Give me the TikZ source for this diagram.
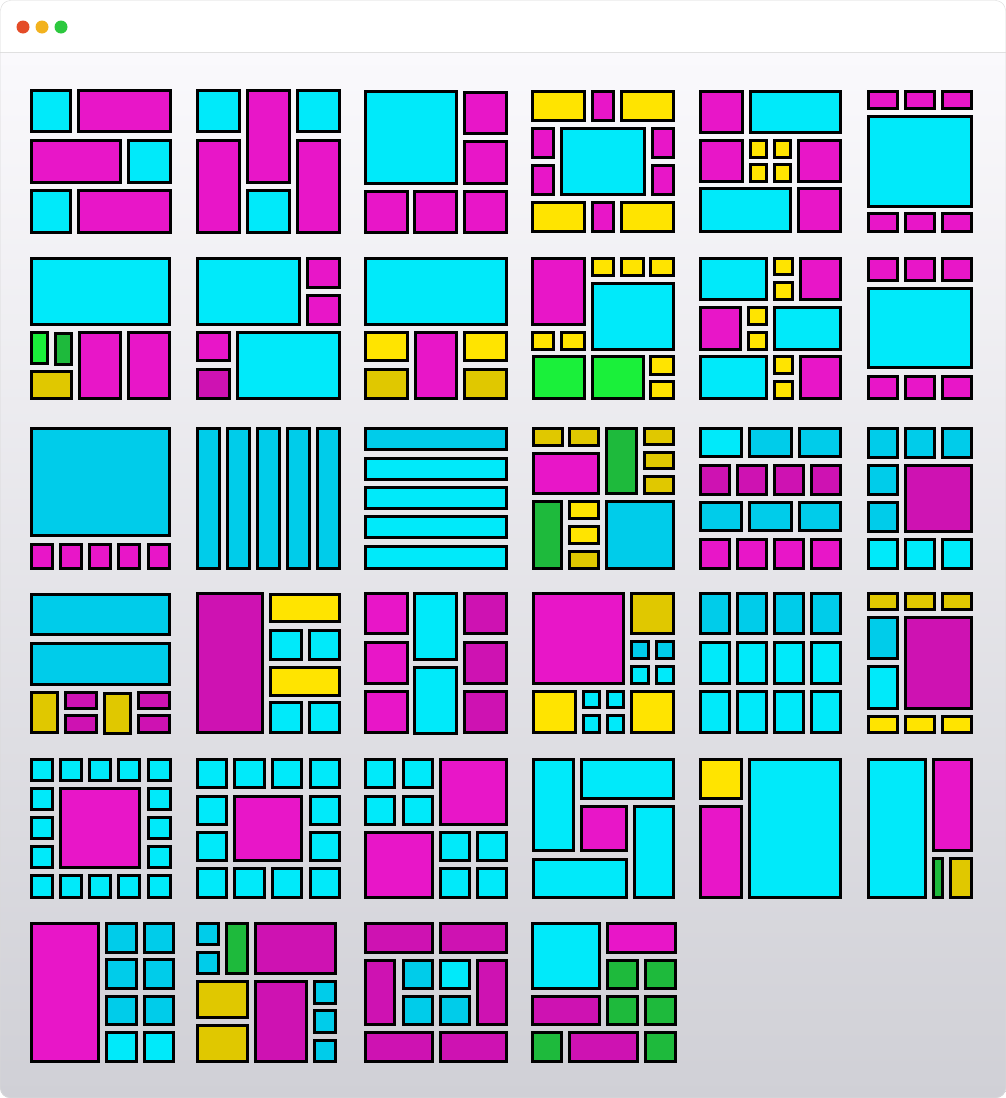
\documentclass[tikz,border=0pt]{standalone}
\usepackage{tikz}

\definecolor{tcyan}{RGB}{0,234,250}
\definecolor{tcyanD}{RGB}{0,204,234}
\definecolor{tmag}{RGB}{232,22,200}
\definecolor{tmagD}{RGB}{206,18,178}
\definecolor{tyel}{RGB}{255,228,0}
\definecolor{tyelD}{RGB}{224,200,0}
\definecolor{tgrn}{RGB}{26,240,58}
\definecolor{tgrnD}{RGB}{30,186,60}
\definecolor{dotred}{RGB}{228,76,40}
\definecolor{dotyel}{RGB}{242,178,30}
\definecolor{dotgrn}{RGB}{44,200,62}

% one tile: style, left, top, right, bottom (pixels)
\newcommand\tile[5]{\draw[#1] ({#2+1.4},{#3+1.4}) rectangle ({#4-1.4},{#5-1.4});}

\begin{document}
\begin{tikzpicture}[
    x=1pt, y=-1pt,
    tilebox/.style={draw=black, line width=2.8pt},
    cy/.style={tilebox, fill=tcyan},
    cyD/.style={tilebox, fill=tcyanD},
    mg/.style={tilebox, fill=tmag},
    mgD/.style={tilebox, fill=tmagD},
    ye/.style={tilebox, fill=tyel},
    yeD/.style={tilebox, fill=tyelD},
    gn/.style={tilebox, fill=tgrn},
    gnD/.style={tilebox, fill=tgrnD}
]
\useasboundingbox (0,0) rectangle (1006,1098);

% window
\begin{scope}
\clip[rounded corners=10pt] (0,0) rectangle (1006,1098);
\shade[top color={rgb,255:red,250;green,249;blue,252}, middle color={rgb,255:red,228;green,223;blue,240}, bottom color={rgb,255:red,208;green,208;blue,214}] (0,52) rectangle (1006,1098);
\fill[white] (0,0) rectangle (1006,52);
\end{scope}
\draw[black!12, line width=1pt] (0,52) -- (1006,52);
\draw[black!15, rounded corners=10pt] (0.5,0.5) rectangle (1005.5,1097.5);
\fill[dotred] (23,27) circle (6.5pt);
\fill[dotyel] (42,27) circle (6.5pt);
\fill[dotgrn] (61,27) circle (6.5pt);

% row 1
\tile{cy}{30}{89}{72}{133}
\tile{mg}{77}{89}{172}{133}
\tile{mg}{30}{139}{122}{184}
\tile{cy}{127}{139}{172}{184}
\tile{cy}{30}{189}{72}{234}
\tile{mg}{77}{189}{172}{234}

\tile{cy}{196}{89}{241}{133}
\tile{mg}{196}{139}{241}{234}
\tile{mg}{246}{89}{291}{184}
\tile{cy}{246}{189}{291}{234}
\tile{cy}{296}{89}{341}{133}
\tile{mg}{296}{139}{341}{234}

\tile{cy}{364}{90}{458}{185}
\tile{mg}{463}{91}{508}{135}
\tile{mg}{463}{140}{508}{185}
\tile{mg}{364}{190}{409}{234}
\tile{mg}{413}{190}{458}{234}
\tile{mg}{463}{190}{508}{234}

\tile{ye}{531}{90}{586}{122}
\tile{mg}{591}{90}{615}{122}
\tile{ye}{620}{90}{675}{122}
\tile{mg}{531}{127}{555}{159}
\tile{mg}{531}{164}{555}{196}
\tile{cy}{560}{127}{646}{196}
\tile{mg}{651}{127}{675}{159}
\tile{mg}{651}{164}{675}{196}
\tile{ye}{531}{201}{586}{233}
\tile{mg}{591}{201}{615}{233}
\tile{ye}{620}{201}{675}{233}

\tile{mg}{699}{90}{744}{134}
\tile{cy}{749}{90}{842}{134}
\tile{mg}{699}{139}{744}{183}
\tile{ye}{749}{139}{768}{159}
\tile{ye}{773}{139}{792}{159}
\tile{ye}{749}{163}{768}{183}
\tile{ye}{773}{163}{792}{183}
\tile{mg}{797}{139}{842}{183}
\tile{cy}{699}{187}{792}{233}
\tile{mg}{797}{187}{842}{233}

\tile{mg}{867}{90}{899}{110}
\tile{mg}{904}{90}{936}{110}
\tile{mg}{941}{90}{973}{110}
\tile{cy}{867}{115}{973}{208}
\tile{mg}{867}{212}{899}{233}
\tile{mg}{904}{212}{936}{233}
\tile{mg}{941}{212}{973}{233}

% row 2
\tile{cy}{30}{257}{171}{326}
\tile{gn}{30}{331}{49}{365}
\tile{gnD}{54}{332}{73}{366}
\tile{yeD}{30}{370}{73}{400}
\tile{mg}{78}{331}{122}{400}
\tile{mg}{127}{331}{171}{400}

\tile{cy}{196}{257}{301}{326}
\tile{mg}{306}{257}{341}{289}
\tile{mg}{306}{294}{341}{326}
\tile{mg}{196}{331}{231}{362}
\tile{mgD}{196}{368}{231}{400}
\tile{cy}{236}{331}{341}{400}

\tile{cy}{364}{257}{508}{326}
\tile{ye}{364}{331}{409}{362}
\tile{yeD}{364}{368}{409}{400}
\tile{mg}{414}{331}{458}{400}
\tile{ye}{463}{331}{508}{362}
\tile{yeD}{463}{368}{508}{400}

\tile{mg}{531}{257}{586}{326}
\tile{ye}{591}{257}{615}{277}
\tile{ye}{620}{257}{645}{277}
\tile{ye}{649}{257}{675}{277}
\tile{cy}{591}{282}{675}{351}
\tile{ye}{531}{331}{555}{351}
\tile{ye}{560}{331}{586}{351}
\tile{gn}{532}{355}{586}{400}
\tile{gn}{591}{355}{645}{400}
\tile{ye}{649}{355}{675}{376}
\tile{ye}{649}{380}{675}{400}

\tile{cy}{699}{257}{768}{301}
\tile{ye}{773}{257}{794}{276}
\tile{ye}{773}{281}{794}{301}
\tile{mg}{799}{257}{842}{301}
\tile{mg}{699}{306}{742}{351}
\tile{ye}{747}{306}{768}{326}
\tile{ye}{747}{331}{768}{351}
\tile{cy}{773}{306}{842}{351}
\tile{cy}{699}{355}{768}{400}
\tile{ye}{773}{355}{794}{375}
\tile{ye}{773}{380}{794}{400}
\tile{mg}{799}{355}{842}{400}

\tile{mg}{867}{257}{899}{282}
\tile{mg}{904}{257}{936}{282}
\tile{mg}{941}{257}{973}{282}
\tile{cy}{867}{287}{973}{369}
\tile{mg}{867}{375}{899}{400}
\tile{mg}{904}{375}{936}{400}
\tile{mg}{941}{375}{973}{400}

% row 3
\tile{cyD}{30}{427}{171}{537}
\tile{mg}{30}{543}{54}{570}
\tile{mg}{59}{543}{83}{570}
\tile{mg}{88}{543}{112}{570}
\tile{mg}{117}{543}{141}{570}
\tile{mg}{147}{543}{171}{570}

\tile{cyD}{196}{427}{221}{570}
\tile{cyD}{226}{427}{251}{570}
\tile{cyD}{256}{427}{281}{570}
\tile{cyD}{286}{427}{311}{570}
\tile{cyD}{316}{427}{341}{570}

\tile{cyD}{364}{427}{508}{451}
\tile{cy}{364}{457}{508}{481}
\tile{cy}{364}{486}{508}{510}
\tile{cy}{364}{515}{508}{539}
\tile{cy}{364}{545}{508}{570}

\tile{yeD}{532}{427}{564}{447}
\tile{yeD}{568}{427}{600}{447}
\tile{mg}{532}{452}{600}{495}
\tile{gnD}{605}{427}{638}{495}
\tile{yeD}{643}{427}{675}{446}
\tile{yeD}{643}{451}{675}{470}
\tile{yeD}{643}{475}{675}{495}
\tile{gnD}{532}{500}{563}{570}
\tile{ye}{568}{500}{600}{520}
\tile{ye}{568}{525}{600}{545}
\tile{yeD}{568}{550}{600}{570}
\tile{cyD}{605}{500}{675}{570}

\tile{cy}{699}{427}{743}{458}
\tile{cyD}{748}{427}{793}{458}
\tile{cyD}{798}{427}{842}{458}
\tile{mgD}{699}{464}{731}{496}
\tile{mgD}{736}{464}{768}{496}
\tile{mgD}{773}{464}{805}{496}
\tile{mgD}{810}{464}{842}{496}
\tile{cyD}{699}{501}{743}{532}
\tile{cyD}{748}{501}{793}{532}
\tile{cyD}{798}{501}{842}{532}
\tile{mg}{699}{538}{731}{570}
\tile{mg}{736}{538}{768}{570}
\tile{mg}{773}{538}{805}{570}
\tile{mg}{810}{538}{842}{570}

\tile{cyD}{867}{427}{899}{459}
\tile{cyD}{904}{427}{936}{459}
\tile{cyD}{941}{427}{973}{459}
\tile{cyD}{867}{464}{899}{496}
\tile{cyD}{867}{501}{899}{533}
\tile{mgD}{904}{464}{973}{533}
\tile{cy}{867}{538}{899}{570}
\tile{cy}{904}{538}{936}{570}
\tile{cy}{941}{538}{973}{570}

% row 4
\tile{cyD}{30}{593}{171}{636}
\tile{cyD}{30}{642}{171}{686}
\tile{yeD}{30}{691}{59}{734}
\tile{mgD}{64}{691}{98}{710}
\tile{mgD}{64}{714}{98}{734}
\tile{yeD}{103}{692}{132}{735}
\tile{mgD}{137}{691}{171}{710}
\tile{mgD}{137}{714}{171}{734}

\tile{mgD}{196}{592}{264}{734}
\tile{ye}{269}{593}{341}{623}
\tile{cy}{269}{629}{303}{661}
\tile{cy}{308}{629}{341}{661}
\tile{ye}{269}{666}{341}{697}
\tile{cy}{269}{701}{303}{734}
\tile{cy}{308}{701}{341}{734}

\tile{mg}{364}{592}{409}{635}
\tile{mg}{364}{641}{409}{685}
\tile{mg}{364}{690}{409}{734}
\tile{cy}{413}{592}{458}{661}
\tile{cy}{413}{666}{458}{735}
\tile{mgD}{463}{592}{508}{635}
\tile{mgD}{463}{641}{508}{685}
\tile{mgD}{463}{690}{508}{734}

\tile{mg}{532}{592}{625}{685}
\tile{yeD}{630}{592}{675}{635}
\tile{cyD}{630}{640}{650}{660}
\tile{cyD}{655}{640}{675}{660}
\tile{cy}{630}{665}{650}{685}
\tile{cy}{655}{665}{675}{685}
\tile{ye}{532}{690}{577}{734}
\tile{cy}{582}{690}{601}{709}
\tile{cy}{606}{690}{625}{709}
\tile{cy}{582}{714}{601}{734}
\tile{cy}{606}{714}{625}{734}
\tile{ye}{630}{690}{675}{734}

\tile{cyD}{699}{592}{731}{635}
\tile{cyD}{736}{592}{768}{635}
\tile{cyD}{773}{592}{805}{635}
\tile{cyD}{810}{592}{842}{635}
\tile{cy}{699}{641}{731}{685}
\tile{cy}{736}{641}{768}{685}
\tile{cy}{773}{641}{805}{685}
\tile{cy}{810}{641}{842}{685}
\tile{cy}{699}{690}{731}{734}
\tile{cy}{736}{690}{768}{734}
\tile{cy}{773}{690}{805}{734}
\tile{cy}{810}{690}{842}{734}

\tile{yeD}{867}{592}{899}{611}
\tile{yeD}{904}{592}{936}{611}
\tile{yeD}{941}{592}{973}{611}
\tile{cyD}{867}{616}{899}{660}
\tile{cy}{867}{665}{899}{710}
\tile{mgD}{904}{616}{973}{710}
\tile{ye}{867}{715}{899}{734}
\tile{ye}{904}{715}{936}{734}
\tile{ye}{941}{715}{973}{734}

% row 5
\tile{cy}{30}{758}{54}{782}
\tile{cy}{59}{758}{83}{782}
\tile{cy}{88}{758}{112}{782}
\tile{cy}{117}{758}{141}{782}
\tile{cy}{147}{758}{172}{782}
\tile{cy}{30}{787}{54}{811}
\tile{cy}{30}{816}{54}{840}
\tile{cy}{30}{845}{54}{869}
\tile{cy}{147}{787}{172}{811}
\tile{cy}{147}{816}{172}{840}
\tile{cy}{147}{845}{172}{869}
\tile{mg}{59}{787}{141}{869}
\tile{cy}{30}{874}{54}{899}
\tile{cy}{59}{874}{83}{899}
\tile{cy}{88}{874}{112}{899}
\tile{cy}{117}{874}{141}{899}
\tile{cy}{147}{874}{172}{899}

\tile{cy}{196}{758}{228}{789}
\tile{cy}{233}{758}{266}{789}
\tile{cy}{271}{758}{303}{789}
\tile{cy}{309}{758}{341}{789}
\tile{cy}{196}{795}{228}{826}
\tile{cy}{196}{831}{228}{862}
\tile{mg}{233}{795}{303}{862}
\tile{cy}{309}{795}{341}{826}
\tile{cy}{309}{831}{341}{862}
\tile{cy}{196}{867}{228}{899}
\tile{cy}{233}{867}{266}{899}
\tile{cy}{271}{867}{303}{899}
\tile{cy}{309}{867}{341}{899}

\tile{cy}{364}{758}{396}{789}
\tile{cy}{402}{758}{434}{789}
\tile{cy}{364}{795}{396}{826}
\tile{cy}{402}{795}{434}{826}
\tile{mg}{439}{758}{508}{826}
\tile{mg}{364}{831}{434}{899}
\tile{cy}{439}{831}{471}{862}
\tile{cy}{476}{831}{508}{862}
\tile{cy}{439}{867}{471}{899}
\tile{cy}{476}{867}{508}{899}

\tile{cy}{532}{758}{575}{852}
\tile{cy}{580}{758}{675}{800}
\tile{mg}{580}{805}{628}{852}
\tile{cy}{633}{805}{675}{899}
\tile{cy}{532}{858}{628}{899}

\tile{ye}{699}{758}{743}{800}
\tile{mg}{699}{805}{743}{899}
\tile{cy}{748}{758}{842}{899}

\tile{cy}{867}{758}{927}{899}
\tile{mg}{932}{758}{973}{852}
\tile{gnD}{932}{857}{944}{899}
\tile{yeD}{949}{857}{973}{899}

% row 6
\tile{mg}{30}{922}{100}{1063}
\tile{cyD}{105}{922}{138}{954}
\tile{cyD}{143}{922}{175}{954}
\tile{cyD}{105}{958}{138}{990}
\tile{cyD}{143}{958}{175}{990}
\tile{cyD}{105}{995}{138}{1026}
\tile{cyD}{143}{995}{175}{1026}
\tile{cy}{105}{1031}{138}{1063}
\tile{cy}{143}{1031}{175}{1063}

\tile{cyD}{196}{922}{220}{946}
\tile{cyD}{196}{951}{220}{975}
\tile{gnD}{225}{922}{249}{975}
\tile{mgD}{254}{922}{337}{975}
\tile{yeD}{196}{980}{249}{1019}
\tile{yeD}{196}{1024}{249}{1063}
\tile{mgD}{254}{980}{308}{1063}
\tile{cyD}{313}{980}{337}{1005}
\tile{cyD}{313}{1009}{337}{1034}
\tile{cyD}{313}{1039}{337}{1063}

\tile{mgD}{364}{922}{434}{954}
\tile{mgD}{439}{922}{508}{954}
\tile{mgD}{364}{959}{396}{1026}
\tile{cyD}{402}{959}{434}{990}
\tile{cy}{439}{959}{471}{990}
\tile{cyD}{402}{995}{434}{1026}
\tile{cyD}{439}{995}{471}{1026}
\tile{mgD}{476}{959}{508}{1026}
\tile{mgD}{364}{1031}{434}{1063}
\tile{mgD}{439}{1031}{508}{1063}

\tile{cy}{531}{922}{601}{990}
\tile{mg}{606}{922}{677}{954}
\tile{gnD}{606}{959}{639}{990}
\tile{gnD}{644}{959}{677}{990}
\tile{mgD}{531}{995}{601}{1026}
\tile{gnD}{606}{995}{639}{1026}
\tile{gnD}{644}{995}{677}{1026}
\tile{gnD}{531}{1031}{563}{1063}
\tile{mgD}{568}{1031}{639}{1063}
\tile{gnD}{644}{1031}{677}{1063}

\end{tikzpicture}
\end{document}
